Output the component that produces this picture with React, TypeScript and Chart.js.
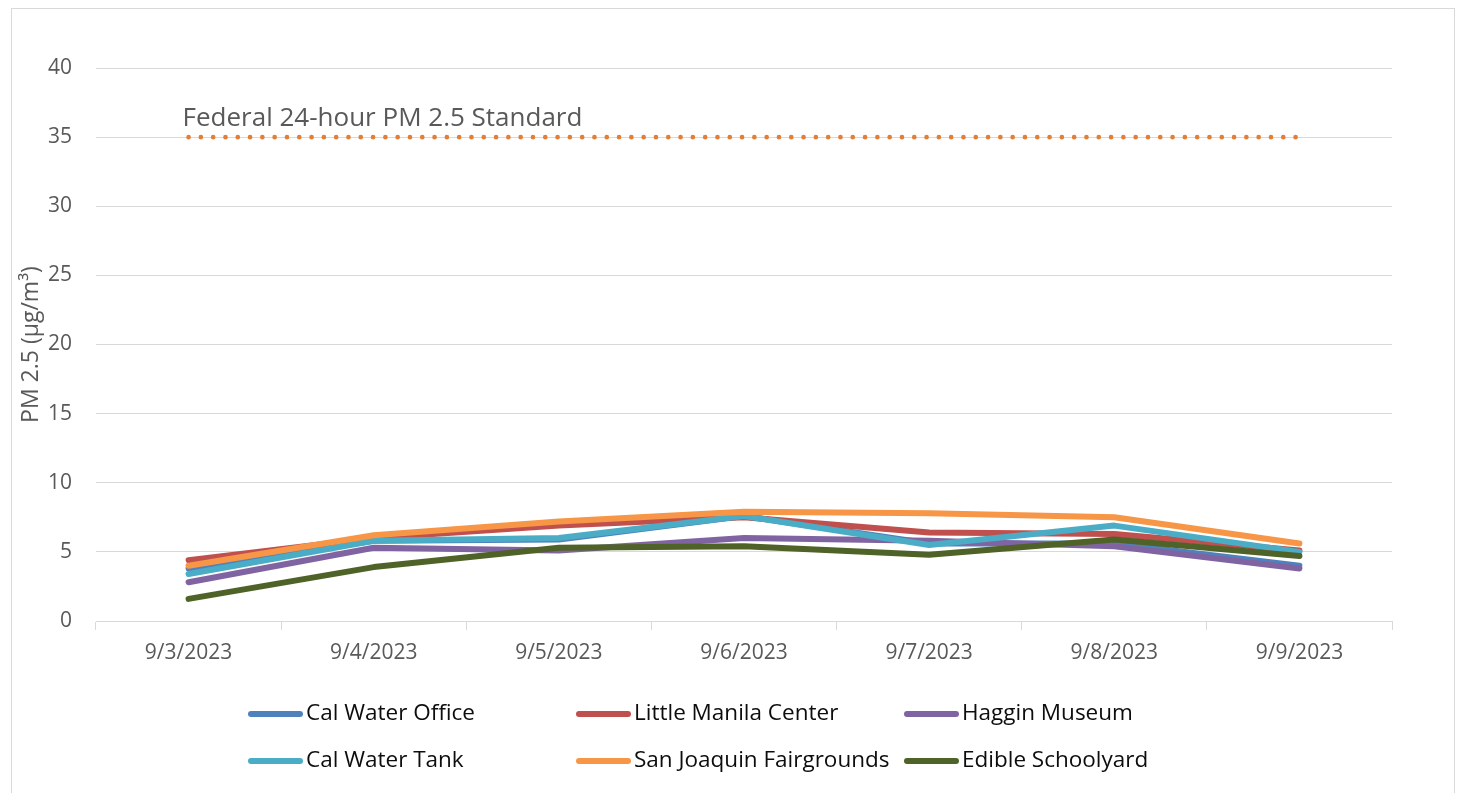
import React, { useEffect, useRef } from "react";
import { Chart, registerables } from "chart.js";

Chart.register(...registerables);

const categories = ["9/3/2023", "9/4/2023", "9/5/2023", "9/6/2023", "9/7/2023", "9/8/2023", "9/9/2023"];

const calWaterOffice = [3.8, 5.8, 5.9, 7.6, 5.6, 5.6, 4.0];
const littleManilaCenter = [4.4, 6.0, 6.9, 7.5, 6.4, 6.3, 5.1];
const hagginMuseum = [2.8, 5.3, 5.1, 6.0, 5.8, 5.4, 3.8];
const calWaterTank = [3.4, 5.8, 6.0, 7.6, 5.5, 6.9, 5.0];
const sanJoaquinFairgrounds = [4.0, 6.2, 7.2, 7.9, 7.8, 7.5, 5.6];
const edibleSchoolyard = [1.6, 3.9, 5.3, 5.4, 4.8, 5.9, 4.7];

const standardValue = 35;
const standardLabel = "Federal 24-hour PM 2.5 Standard";
const yAxisTitle = "PM 2.5 (µg/m³)";
const yMin = 0;
const yMax = 40;
const yStep = 5;

const seriesNames = [
  "Cal Water Office",
  "Little Manila Center",
  "Haggin Museum",
  "Cal Water Tank",
  "San Joaquin Fairgrounds",
  "Edible Schoolyard",
];
const seriesValues = [
  calWaterOffice,
  littleManilaCenter,
  hagginMuseum,
  calWaterTank,
  sanJoaquinFairgrounds,
  edibleSchoolyard,
];
const seriesColors = ["#4F81BD", "#C0504D", "#8064A2", "#4BACC6", "#F79646", "#4F6228"];
const standardColor = "#E27F35";

const FONT = "'Open Sans', 'Noto Sans', sans-serif";

const framePlugin = {
  id: "frame",
  beforeDraw(chart: any) {
    const ctx = chart.ctx;
    ctx.save();
    ctx.fillStyle = "#ffffff";
    ctx.fillRect(0, 0, chart.width, chart.height);
    ctx.strokeStyle = "#D9D9D9";
    ctx.lineWidth = 1;
    ctx.strokeRect(11.5, 8.5, 1443, 900);
    ctx.restore();
  },
};

const annotationPlugin = {
  id: "standardLabel",
  afterDatasetsDraw(chart: any) {
    const ctx = chart.ctx;
    const xs = chart.scales.x;
    const ys = chart.scales.y;
    ctx.save();
    ctx.font = `26px ${FONT}`;
    ctx.fillStyle = "#595959";
    ctx.textAlign = "left";
    ctx.textBaseline = "middle";
    ctx.fillText(standardLabel, xs.getPixelForValue(0) - 6, ys.getPixelForValue(standardValue) - 19);
    ctx.restore();
  },
};

const legendPlugin = {
  id: "gridLegend",
  afterDraw(chart: any) {
    const ctx = chart.ctx;
    const colX = [248, 576, 904];
    const rowY = [714, 761];
    ctx.save();
    ctx.font = `22.5px ${FONT}`;
    ctx.textAlign = "left";
    ctx.textBaseline = "middle";
    seriesNames.forEach((name, i) => {
      const x = colX[i % 3];
      const y = rowY[Math.floor(i / 3)];
      ctx.strokeStyle = seriesColors[i];
      ctx.lineWidth = 6;
      ctx.lineCap = "round";
      ctx.beginPath();
      ctx.moveTo(x + 3, y);
      ctx.lineTo(x + 52, y);
      ctx.stroke();
      ctx.fillStyle = "#0d0d0d";
      ctx.fillText(name, x + 58, y);
    });
    ctx.restore();
  },
};

export default function App() {
  const canvasRef = useRef<HTMLCanvasElement | null>(null);

  useEffect(() => {
    if (!canvasRef.current) return;
    Chart.defaults.font.family = FONT;
    const datasets: any[] = seriesNames.map((name, i) => ({
      label: name,
      data: seriesValues[i],
      borderColor: seriesColors[i],
      backgroundColor: seriesColors[i],
      borderWidth: 6,
      pointRadius: 0,
      tension: 0,
      borderCapStyle: "round",
      borderJoinStyle: "round",
      fill: false,
      order: seriesNames.length - i,
    }));
    datasets.push({
      label: standardLabel,
      data: categories.map(() => standardValue),
      borderColor: standardColor,
      backgroundColor: standardColor,
      borderWidth: 4.7,
      borderDash: [0, 12.3],
      borderCapStyle: "round",
      pointRadius: 0,
      tension: 0,
      fill: false,
      order: 0,
    });

    const chart = new Chart(canvasRef.current, {
      type: "line",
      data: { labels: categories, datasets },
      options: {
        responsive: false,
        animation: false,
        layout: { padding: { left: 0, right: 66, top: 68, bottom: 112 } },
        plugins: {
          legend: { display: false },
          tooltip: { enabled: false },
        },
        scales: {
          x: {
            offset: true,
            grid: {
              offset: true,
              drawOnChartArea: false,
              drawTicks: true,
              tickLength: 9,
              color: "#D9D9D9",
            },
            border: { display: true, color: "#D9D9D9" },
            ticks: {
              color: "#595959",
              font: { size: 21, family: FONT },
              padding: 10,
              maxRotation: 0,
              autoSkip: false,
            },
            afterFit(s: any) {
              s.height = 60;
            },
          },
          y: {
            min: yMin,
            max: yMax,
            ticks: {
              stepSize: yStep,
              padding: 24,
              color: "#595959",
              font: { size: 21, family: FONT },
            },
            grid: { color: "#D9D9D9", drawTicks: false, lineWidth: 1 },
            border: { display: false },
            title: {
              display: true,
              text: yAxisTitle,
              color: "#595959",
              font: { size: 23, family: FONT },
              padding: { top: 18, bottom: 0 },
            },
            afterFit(s: any) {
              s.width = 96;
            },
          },
        },
      },
      plugins: [framePlugin, annotationPlugin, legendPlugin],
    });
    return () => chart.destroy();
  }, []);

  return (
    <div style={{ position: "fixed", left: 0, top: 0, width: 1458, height: 793, background: "#fff" }}>
      <canvas ref={canvasRef} width={1458} height={793} style={{ display: "block" }} />
    </div>
  );
}
